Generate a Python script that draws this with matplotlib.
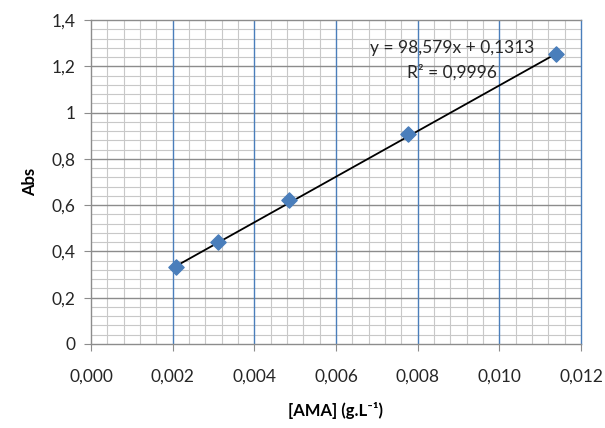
import numpy as np
import matplotlib.pyplot as plt
from matplotlib.ticker import MultipleLocator, FixedLocator, FuncFormatter

# calibration data
conc = [0.00207, 0.00312, 0.00485, 0.00777, 0.01140]
absorb = [0.334, 0.439, 0.620, 0.906, 1.251]
slope = 98.579
intercept = 0.1313
r2 = 0.9996

plt.rcParams['font.family'] = ['Lato', 'DejaVu Sans']

fig = plt.figure(figsize=(6.05, 4.28), dpi=100)
ax = fig.add_axes([0.1504, 0.1963, 0.8099, 0.757])

ax.set_xlim(0, 0.012)
ax.set_ylim(0, 1.4)
ax.xaxis.set_major_locator(MultipleLocator(0.002))
ax.yaxis.set_major_locator(MultipleLocator(0.2))
# minor lines only between the major ones
xminor = [i * 0.0004 for i in range(31) if i % 5]
yminor = [i * 0.04 for i in range(36) if i % 5]
ax.xaxis.set_minor_locator(FixedLocator(xminor))
ax.yaxis.set_minor_locator(FixedLocator(yminor))

ax.xaxis.set_major_formatter(FuncFormatter(lambda v, p: f"{v:.3f}".replace('.', ',')))
ax.yaxis.set_major_formatter(FuncFormatter(
    lambda v, p: f"{v:.1f}".replace('.', ',') if abs(v - round(v)) > 1e-9 else f"{int(round(v))}"))

# grid: light minor grid, then gray horizontal majors, blue vertical majors on top
ax.grid(which='minor', color='#c8c8c8', linewidth=0.8)
ax.set_axisbelow(True)
for yv in np.arange(0.2, 1.4, 0.2):
    ax.axhline(yv, color='#8c8c8c', linewidth=1.0, zorder=0.7)
for xv in np.arange(0.002, 0.012, 0.002):
    ax.axvline(xv, color='#4a7ebb', linewidth=1.0, zorder=0.8)

for s in ['left', 'bottom', 'top']:
    ax.spines[s].set_color('#8c8c8c')
    ax.spines[s].set_linewidth(1.0)
ax.spines['right'].set_color('#4a7ebb')
ax.spines['right'].set_linewidth(1.0)

ax.tick_params(which='major', length=5, color='#8c8c8c', labelsize=12.5, labelcolor='#262626')
ax.tick_params(axis='x', which='major', pad=13)
ax.tick_params(axis='y', which='major', pad=6)
ax.tick_params(which='minor', length=0)

# trendline
x_line = np.array([conc[0], conc[-1]])
ax.plot(x_line, slope * x_line + intercept, color='black', linewidth=1.3, zorder=3)

ax.scatter(conc, absorb, marker='D', s=60, color='#4a7ebb', zorder=4)

ax.text(0.00884, 1.279, f"y = {slope:.3f}x + {intercept}".replace('.', ','),
        ha='center', va='center', fontsize=12.5, color='#262626')
ax.text(0.00884, 1.175, f"R² = {r2}".replace('.', ','),
        ha='center', va='center', fontsize=12.5, color='#262626')

ax.set_xlabel('[AMA] (g.L⁻¹)', fontsize=12, fontweight='bold', labelpad=12)
ax.set_ylabel('Abs', fontsize=12, fontweight='bold', labelpad=10)

fig.savefig('out.png', dpi=100)
